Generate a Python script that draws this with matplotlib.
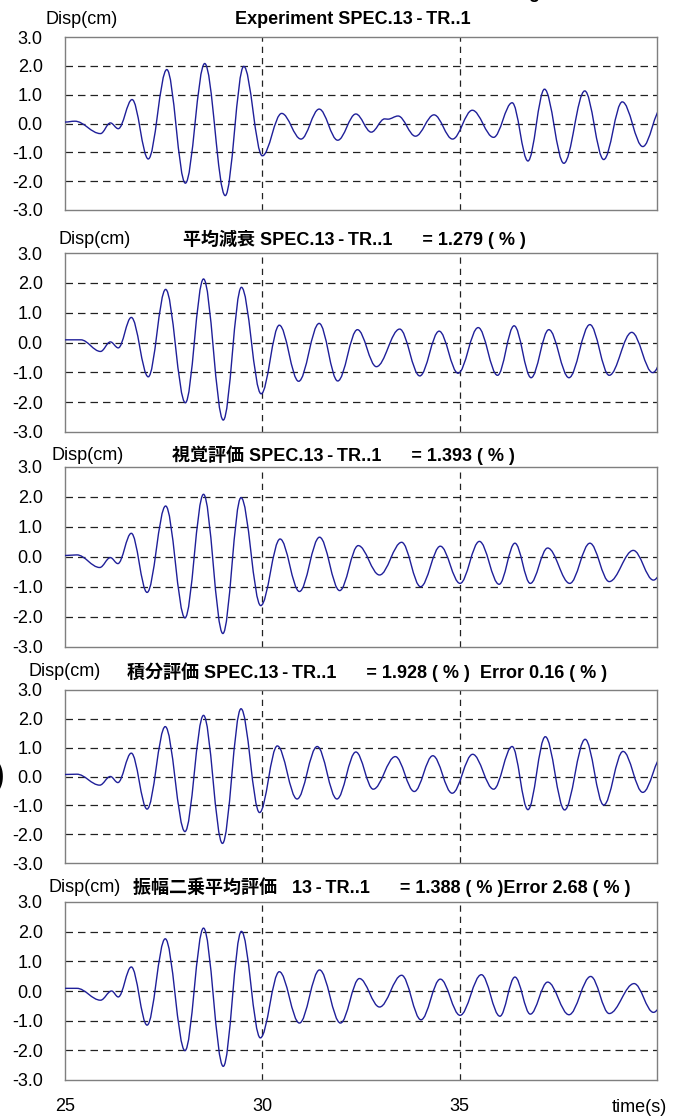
import matplotlib
matplotlib.use("Agg")
import matplotlib.pyplot as plt
from matplotlib.path import Path
from matplotlib.patches import PathPatch

# Peaks and troughs (time s, displacement cm)
t_exp = [25.00, 25.25, 25.90, 26.15, 26.35, 26.70, 27.11, 27.58, 28.05, 28.54, 29.06, 29.53,
         30.00, 30.49, 30.98, 31.44, 31.91, 32.37, 32.76, 33.10, 33.18, 33.44, 33.88, 34.35,
         34.82, 35.32, 35.86, 36.33, 36.73, 37.15, 37.64, 38.17, 38.65, 39.12, 39.64, 40.12]
d_exp = [0.05, 0.08, -0.35, 0.02, -0.18, 0.83, -1.23, 1.87, -2.07, 2.08, -2.50, 1.98,
         -1.12, 0.35, -0.54, 0.50, -0.58, 0.33, -0.30, 0.16, 0.15, 0.26, -0.44, 0.30,
         -0.54, 0.46, -0.48, 0.72, -1.30, 1.19, -1.38, 1.13, -1.25, 0.75, -0.80, 0.55]

t_avg = [25.00, 25.40, 25.90, 26.15, 26.35, 26.68, 27.11, 27.55, 28.05, 28.51, 29.01, 29.47,
         29.97, 30.43, 30.92, 31.44, 31.91, 32.41, 32.89, 33.48, 33.99, 34.48, 34.96, 35.47,
         35.96, 36.38, 36.81, 37.26, 37.77, 38.30, 38.79, 39.36, 39.89, 40.40]
d_avg = [0.09, 0.09, -0.30, 0.02, -0.18, 0.84, -1.15, 1.78, -2.02, 2.13, -2.60, 1.85,
         -1.72, 0.58, -1.30, 0.64, -1.29, 0.43, -0.81, 0.45, -1.12, 0.38, -1.03, 0.50,
         -1.10, 0.56, -1.18, 0.43, -1.18, 0.60, -1.10, 0.34, -1.01, 0.30]

t_vis = [25.00, 25.30, 25.88, 26.15, 26.34, 26.68, 27.08, 27.55, 28.04, 28.51, 29.00, 29.46,
         29.96, 30.45, 30.94, 31.45, 31.96, 32.43, 32.97, 33.53, 34.01, 34.51, 35.01, 35.50,
         36.00, 36.40, 36.79, 37.23, 37.79, 38.30, 38.79, 39.40, 39.91, 40.40]
d_vis = [0.05, 0.07, -0.35, -0.02, -0.22, 0.79, -1.18, 1.70, -2.03, 2.09, -2.55, 1.98,
         -1.62, 0.60, -1.15, 0.66, -1.12, 0.38, -0.60, 0.49, -0.99, 0.36, -0.88, 0.52,
         -0.91, 0.46, -0.88, 0.30, -0.88, 0.46, -0.82, 0.22, -0.77, 0.20]

t_int = [25.00, 25.30, 25.88, 26.15, 26.34, 26.68, 27.08, 27.54, 28.04, 28.51, 28.99, 29.46,
         29.93, 30.38, 30.88, 31.39, 31.89, 32.37, 32.81, 33.37, 33.85, 34.32, 34.81, 35.33,
         35.86, 36.33, 36.73, 37.17, 37.66, 38.18, 38.65, 39.14, 39.64, 40.15]
d_int = [0.07, 0.08, -0.30, 0.00, -0.21, 0.81, -1.13, 1.73, -1.91, 2.12, -2.32, 2.35,
         -1.25, 1.06, -0.78, 1.04, -0.78, 0.85, -0.44, 0.69, -0.52, 0.72, -0.58, 0.77,
         -0.44, 1.04, -1.15, 1.38, -1.16, 1.29, -0.99, 0.87, -0.55, 0.75]

t_rms = [25.00, 25.30, 25.90, 26.18, 26.35, 26.68, 27.08, 27.54, 28.04, 28.51, 29.01, 29.47,
         29.95, 30.43, 30.94, 31.45, 31.98, 32.46, 32.97, 33.53, 34.02, 34.51, 35.01, 35.55,
         36.02, 36.40, 36.79, 37.23, 37.77, 38.32, 38.79, 39.42, 39.91, 40.40]
d_rms = [0.09, 0.09, -0.31, 0.00, -0.20, 0.81, -1.15, 1.76, -2.01, 2.12, -2.54, 2.01,
         -1.58, 0.65, -1.08, 0.71, -1.08, 0.42, -0.54, 0.53, -0.97, 0.40, -0.82, 0.55,
         -0.85, 0.47, -0.78, 0.30, -0.80, 0.49, -0.76, 0.25, -0.72, 0.20]

titles = [
    "Experiment SPEC.13\u2009-\u2009TR..1",
    "平均減衰 SPEC.13\u2009-\u2009TR..1      = 1.279 ( % )",
    "視覚評価 SPEC.13\u2009-\u2009TR..1      = 1.393 ( % )",
    "積分評価 SPEC.13\u2009-\u2009TR..1      = 1.928 ( % )  Error 0.16 ( % )",
    "振幅二乗平均評価   13\u2009-\u2009TR..1      = 1.388 ( % )Error 2.68 ( % )",
]
series = [(t_exp, d_exp), (t_avg, d_avg), (t_vis, d_vis), (t_int, d_int), (t_rms, d_rms)]

y_ticks = [3, 2, 1, 0, -1, -2, -3]
y_labels = ["3.0", "2.0", "1.0", "0.0", "-1.0", "-2.0", "-3.0"]
x_ticks = [25, 30, 35]

W, H = 678, 1118
# panel top / bottom in pixels, title and label positions
panels = [(37, 210), (253, 432), (467, 647), (690, 863), (902, 1080)]
title_x = [353, 354, 343, 367, 382]
label_x = [45, 58, 51, 28, 48]
head_y = [19, 239, 455, 672, 887]

latin = "Liberation Sans"
mixed = [latin, "Noto Sans CJK JP", "DejaVu Sans"]
line_col = "#1f1f99"


def smooth_path(ts, vs, k=0.363):
    # cubic segments with flat tangents at every peak / trough
    verts = [(ts[0], vs[0])]
    codes = [Path.MOVETO]
    for i in range(len(ts) - 1):
        dt = ts[i + 1] - ts[i]
        verts += [(ts[i] + k * dt, vs[i]), (ts[i + 1] - k * dt, vs[i + 1]), (ts[i + 1], vs[i + 1])]
        codes += [Path.CURVE4] * 3
    return Path(verts, codes)


fig = plt.figure(figsize=(W / 100, H / 100), dpi=100)
left, right = 65, 657

for i, ((top, bot), (ts, vs)) in enumerate(zip(panels, series)):
    ax = fig.add_axes([left / W, 1 - bot / H, (right - left) / W, (bot - top) / H])
    ax.set_xlim(25, 40)
    ax.set_ylim(-3, 3)
    for y in [-2, -1, 0, 1, 2]:
        ax.axhline(y, color="#222222", lw=0.9, dashes=(6, 4), zorder=1)
    for x in [30, 35]:
        ax.axvline(x, color="#222222", lw=0.9, dashes=(5, 4), zorder=1)
    ax.add_patch(PathPatch(smooth_path(ts, vs), fill=False, edgecolor=line_col, lw=1.0, zorder=3))
    for s in ax.spines.values():
        s.set_color("#7f7f7f")
        s.set_linewidth(1.0)
    ax.set_yticks(y_ticks)
    ax.set_yticklabels(y_labels, fontsize=13, family=latin)
    ax.tick_params(axis="y", length=0, pad=16)
    ax.set_xticks(x_ticks)
    if i == len(panels) - 1:
        ax.set_xticklabels([str(x) for x in x_ticks], fontsize=13, family=latin)
        ax.tick_params(axis="x", length=0, pad=13)
    else:
        ax.set_xticklabels([])
        ax.tick_params(axis="x", length=0)

    fig.text(label_x[i] / W, 1 - head_y[i] / H, "Disp(cm)", fontsize=13,
             family=latin, ha="left", va="center")
    fig.text(title_x[i] / W, 1 - head_y[i] / H, titles[i], fontsize=13, fontweight="bold",
             family=mixed, ha="center", va="center")

fig.text(667 / W, 1 - 1112 / H, "time(s)", fontsize=13, family=latin, ha="right", va="baseline")
# cut-off glyphs at the edges of the scan
fig.text(5 / W, 1 - 776 / H, ")", fontsize=26, family=latin, ha="right", va="center")
fig.text(528 / W, 1.0015, "g", fontsize=13, fontweight="bold", family=latin, ha="left", va="baseline")

fig.savefig("out.png", dpi=100)
